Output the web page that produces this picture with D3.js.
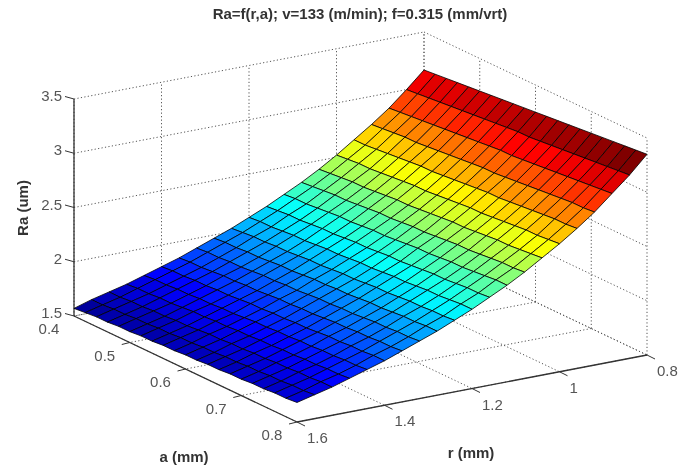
<!DOCTYPE html>
<html>
<head>
<meta charset="utf-8">
<script src="https://cdn.jsdelivr.net/npm/d3@7"></script>
<style>
body { margin: 0; background: #fff; }
svg { display: block; filter: blur(0.55px); }
text { font-family: "Liberation Sans", Arial, sans-serif; }
</style>
</head>
<body>
<svg></svg>
<script>
// the data
var aValues = [0.40,0.42,0.44,0.46,0.48,0.50,0.52,0.54,0.56,0.58,0.60,0.62,0.64,0.66,0.68,0.70,0.72,0.74,0.76,0.78,0.80];
var rValues = [0.80,0.84,0.88,0.92,0.96,1.00,1.04,1.08,1.12,1.16,1.20,1.24,1.28,1.32,1.36,1.40,1.44,1.48,1.52,1.56,1.60];
// one row per r, one column per a
var raValues = [
  [3.15,3.16,3.17,3.18,3.19,3.20,3.21,3.22,3.23,3.24,3.25,3.26,3.27,3.28,3.29,3.30,3.31,3.32,3.33,3.34,3.35],
  [3.00,3.01,3.02,3.03,3.04,3.05,3.06,3.07,3.08,3.09,3.10,3.10,3.11,3.12,3.13,3.14,3.15,3.16,3.17,3.18,3.19],
  [2.86,2.87,2.88,2.89,2.90,2.91,2.92,2.93,2.94,2.95,2.96,2.96,2.97,2.98,2.99,3.00,3.01,3.02,3.03,3.04,3.05],
  [2.74,2.75,2.76,2.77,2.77,2.78,2.79,2.80,2.81,2.82,2.83,2.83,2.84,2.85,2.86,2.87,2.88,2.89,2.90,2.90,2.91],
  [2.63,2.63,2.64,2.65,2.66,2.67,2.68,2.68,2.69,2.70,2.71,2.72,2.73,2.73,2.74,2.75,2.76,2.77,2.78,2.78,2.79],
  [2.52,2.53,2.54,2.54,2.55,2.56,2.57,2.58,2.58,2.59,2.60,2.61,2.62,2.62,2.63,2.64,2.65,2.66,2.66,2.67,2.68],
  [2.42,2.43,2.44,2.45,2.45,2.46,2.47,2.48,2.48,2.49,2.50,2.51,2.52,2.52,2.53,2.54,2.55,2.55,2.56,2.57,2.58],
  [2.33,2.34,2.35,2.36,2.36,2.37,2.38,2.39,2.39,2.40,2.41,2.41,2.42,2.43,2.44,2.44,2.45,2.46,2.47,2.47,2.48],
  [2.25,2.26,2.26,2.27,2.28,2.29,2.29,2.30,2.31,2.31,2.32,2.33,2.34,2.34,2.35,2.36,2.36,2.37,2.38,2.39,2.39],
  [2.17,2.18,2.19,2.19,2.20,2.21,2.21,2.22,2.23,2.23,2.24,2.25,2.25,2.26,2.27,2.28,2.28,2.29,2.30,2.30,2.31],
  [2.10,2.11,2.11,2.12,2.13,2.13,2.14,2.15,2.15,2.16,2.17,2.17,2.18,2.19,2.19,2.20,2.21,2.21,2.22,2.23,2.23],
  [2.03,2.04,2.05,2.05,2.06,2.06,2.07,2.08,2.08,2.09,2.10,2.10,2.11,2.12,2.12,2.13,2.14,2.14,2.15,2.15,2.16],
  [1.97,1.98,1.98,1.99,1.99,2.00,2.01,2.01,2.02,2.03,2.03,2.04,2.04,2.05,2.06,2.06,2.07,2.08,2.08,2.09,2.09],
  [1.91,1.92,1.92,1.93,1.93,1.94,1.95,1.95,1.96,1.96,1.97,1.98,1.98,1.99,1.99,2.00,2.01,2.01,2.02,2.02,2.03],
  [1.85,1.86,1.86,1.87,1.88,1.88,1.89,1.89,1.90,1.91,1.91,1.92,1.92,1.93,1.94,1.94,1.95,1.95,1.96,1.96,1.97],
  [1.80,1.81,1.81,1.82,1.82,1.83,1.83,1.84,1.85,1.85,1.86,1.86,1.87,1.87,1.88,1.89,1.89,1.90,1.90,1.91,1.91],
  [1.75,1.76,1.76,1.77,1.77,1.78,1.78,1.79,1.79,1.80,1.81,1.81,1.82,1.82,1.83,1.83,1.84,1.84,1.85,1.85,1.86],
  [1.70,1.71,1.71,1.72,1.72,1.73,1.74,1.74,1.75,1.75,1.76,1.76,1.77,1.77,1.78,1.78,1.79,1.79,1.80,1.80,1.81],
  [1.66,1.66,1.67,1.67,1.68,1.68,1.69,1.69,1.70,1.71,1.71,1.72,1.72,1.73,1.73,1.74,1.74,1.75,1.75,1.76,1.76],
  [1.62,1.62,1.63,1.63,1.64,1.64,1.65,1.65,1.66,1.66,1.67,1.67,1.68,1.68,1.69,1.69,1.70,1.70,1.71,1.71,1.72],
  [1.57,1.58,1.59,1.59,1.60,1.60,1.61,1.61,1.62,1.62,1.63,1.63,1.64,1.64,1.65,1.65,1.66,1.66,1.67,1.67,1.68]
];
var aTicks = [0.4,0.5,0.6,0.7,0.8];
var rTicks = [0.8,1.0,1.2,1.4,1.6];
var zTicks = [1.5,2,2.5,3,3.5];
var rTickLabels = ["0.8","1","1.2","1.4","1.6"];

var titleText = "Ra=f(r,a); v=133 (m/min); f=0.315 (mm/vrt)";

var width = 689, height = 465;
var svg = d3.select("svg").attr("width", width).attr("height", height);

// oblique box: each data axis moves the screen point along its own edge.
// the origin of these scales is the front floor corner (a=0.8, r=1.6, z=1.5)
var aX = d3.scaleLinear().domain([0.8, 0.4]).range([0, -223]);
var aY = d3.scaleLinear().domain([0.8, 0.4]).range([0, -106]);
var rX = d3.scaleLinear().domain([1.6, 0.8]).range([0, 350]);
var rY = d3.scaleLinear().domain([1.6, 0.8]).range([0, -67]);
var zY = d3.scaleLinear().domain([1.5, 3.5]).range([0, -217]);

function project(a, r, z) {
  return [297 + aX(a) + rX(r), 422 + aY(a) + rY(r) + zY(z)];
}

var line = d3.line();

// jet colormap, 64 steps like matlab
var jet = d3.scaleLinear()
  .domain([0, 0.125, 0.375, 0.625, 0.875, 1])
  .range(["#00008f", "#0000ff", "#00ffff", "#ffff00", "#ff0000", "#800000"]);
var zMin = d3.min(raValues, function(row) { return d3.min(row); });
var zMax = d3.max(raValues, function(row) { return d3.max(row); });
function cellColor(z) {
  var level = Math.min(63, Math.floor((z - zMin) / (zMax - zMin) * 64));
  return jet(level / 63);
}

// grid behind the surface
var gridLines = [];
zTicks.forEach(function(z) {
  gridLines.push([project(0.4, 1.6, z), project(0.4, 0.8, z)]);
  gridLines.push([project(0.4, 0.8, z), project(0.8, 0.8, z)]);
});
rTicks.forEach(function(r) {
  gridLines.push([project(0.4, r, 1.5), project(0.4, r, 3.5)]);
  gridLines.push([project(0.4, r, 1.5), project(0.8, r, 1.5)]);
});
aTicks.forEach(function(a) {
  gridLines.push([project(a, 0.8, 1.5), project(a, 0.8, 3.5)]);
  gridLines.push([project(a, 0.8, 1.5), project(a, 1.6, 1.5)]);
});

svg.append("g").selectAll("path")
  .data(gridLines)
  .enter().append("path")
  .attr("d", line)
  .attr("fill", "none")
  .attr("stroke", "#555")
  .attr("stroke-width", 1)
  .attr("stroke-dasharray", "1.2 2.3");

// axes
var axisLines = [
  [project(0.4, 1.6, 1.5), project(0.4, 1.6, 3.5)],
  [project(0.4, 1.6, 1.5), project(0.8, 1.6, 1.5)],
  [project(0.8, 1.6, 1.5), project(0.8, 0.8, 1.5)]
];
svg.append("g").selectAll("path")
  .data(axisLines)
  .enter().append("path")
  .attr("d", line)
  .attr("fill", "none")
  .attr("stroke", "#333")
  .attr("stroke-width", 1.3);

function addTicks(ticks, pointOf, dx, dy) {
  svg.append("g").selectAll("path")
    .data(ticks)
    .enter().append("path")
    .attr("d", function(d) {
      var p = pointOf(d);
      return line([p, [p[0] + dx, p[1] + dy]]);
    })
    .attr("fill", "none")
    .attr("stroke", "#333")
    .attr("stroke-width", 1);
}
function addLabels(ticks, pointOf, dx, dy, anchor, labelOf) {
  svg.append("g").selectAll("text")
    .data(ticks)
    .enter().append("text")
    .attr("x", function(d) { return pointOf(d)[0] + dx; })
    .attr("y", function(d) { return pointOf(d)[1] + dy; })
    .attr("text-anchor", anchor)
    .attr("font-size", 15)
    .attr("fill", "#555")
    .text(labelOf);
}

var zPoint = function(z) { return project(0.4, 1.6, z); };
var aPoint = function(a) { return project(a, 1.6, 1.5); };
var rPoint = function(r) { return project(0.8, r, 1.5); };

addTicks(zTicks, zPoint, -9, -2.5);
addTicks(aTicks.slice(1), aPoint, -8, 2);
addTicks(rTicks, rPoint, 8, 4);

addLabels(zTicks, zPoint, -12, 2, "end", function(d) { return d; });
addLabels(aTicks, aPoint, -25, 18, "middle", function(d) { return d; });
addLabels(rTicks, rPoint, 10, 21, "start", function(d, i) { return rTickLabels[i]; });

// surface, back cells first
var cells = [];
rValues.slice(0, -1).forEach(function(r, i) {
  aValues.slice(0, -1).forEach(function(a, j) {
    cells.push({
      z: raValues[i][j],
      pts: [
        project(a, r, raValues[i][j]),
        project(aValues[j + 1], r, raValues[i][j + 1]),
        project(aValues[j + 1], rValues[i + 1], raValues[i + 1][j + 1]),
        project(a, rValues[i + 1], raValues[i + 1][j])
      ]
    });
  });
});

svg.append("g").selectAll("path")
  .data(cells)
  .enter().append("path")
  .attr("d", function(d) { return line(d.pts) + "Z"; })
  .attr("fill", function(d) { return cellColor(d.z); })
  .attr("stroke", "#000")
  .attr("stroke-width", 0.8)
  .attr("stroke-linejoin", "round");

// title and axis names
svg.append("text")
  .attr("x", 360)
  .attr("y", 19)
  .attr("text-anchor", "middle")
  .attr("font-size", 15)
  .attr("font-weight", "bold")
  .attr("fill", "#333")
  .text(titleText);

svg.append("text")
  .attr("x", 184)
  .attr("y", 462)
  .attr("text-anchor", "middle")
  .attr("font-size", 15)
  .attr("font-weight", "bold")
  .attr("fill", "#333")
  .text("a (mm)");

svg.append("text")
  .attr("x", 471)
  .attr("y", 458)
  .attr("text-anchor", "middle")
  .attr("font-size", 15)
  .attr("font-weight", "bold")
  .attr("fill", "#333")
  .text("r (mm)");

svg.append("text")
  .attr("transform", "translate(28,208) rotate(-90)")
  .attr("text-anchor", "middle")
  .attr("font-size", 15)
  .attr("font-weight", "bold")
  .attr("fill", "#333")
  .text("Ra (um)");
</script>
</body>
</html>
